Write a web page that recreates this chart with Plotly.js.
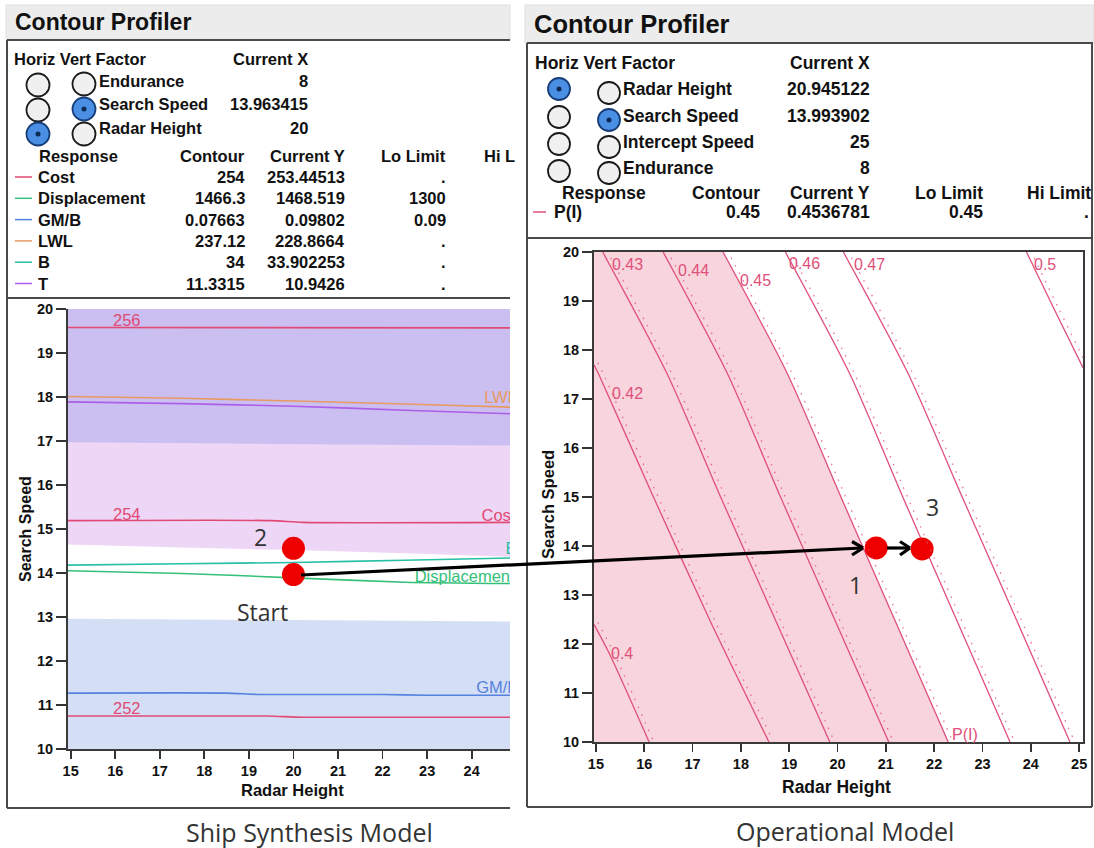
<!DOCTYPE html>
<html><head><meta charset="utf-8">
<script src="https://cdn.plot.ly/plotly-3.0.1.min.js"></script>
<style>html,body{margin:0;padding:0;background:#fff;}#chart{width:1094px;height:848px;}</style>
</head><body><div id="chart"></div>
<script>
// ===================== DATA =====================
// Left panel table (Ship Synthesis Model)
const leftFactors = ["Endurance", "Search Speed", "Radar Height"];
const leftFactorX = ["8", "13.963415", "20"];
const leftHoriz = [false, false, true];
const leftVert = [false, true, false];
const leftResponses = ["Cost", "Displacement", "GM/B", "LWL", "B", "T"];
const leftContour = ["254", "1466.3", "0.07663", "237.12", "34", "11.3315"];
const leftCurrentY = ["253.44513", "1468.519", "0.09802", "228.8664", "33.902253", "10.9426"];
const leftLoLimit = [".", "1300", "0.09", ".", ".", "."];

// Right panel table (Operational Model)
const rightFactors = ["Radar Height", "Search Speed", "Intercept Speed", "Endurance"];
const rightFactorX = ["20.945122", "13.993902", "25", "8"];
const rightHoriz = [true, false, false, false];
const rightVert = [false, true, false, false];
const rightResponses = ["P(I)"];
const rightContour = ["0.45"];
const rightCurrentY = ["0.4536781"];
const rightLoLimit = ["0.45"];
const rightHiLimit = ["."];

// Left contour plot: Radar Height (x) vs Search Speed (y)
const leftXs = [14.94, 17.5, 20, 22.5, 24.86];
const lwlY = [18.01, 17.97, 17.91, 17.84, 17.77];
const tY = [17.89, 17.85, 17.79, 17.70, 17.62];
const bY = [14.18, 14.21, 14.24, 14.29, 14.34];
const dispY = [14.05, 13.99, 13.89, 13.79, 13.76];
const lavBoundY = [14.65, 14.58, 14.52, 14.45, 14.37];
const cost256X = [14.94, 24.86], cost256Y = [19.58, 19.57];
const cost254X = [14.94, 19.5, 20.2, 24.86], cost254Y = [15.19, 15.19, 15.15, 15.15];
const cost252X = [14.94, 19.4, 20.2, 24.86], cost252Y = [10.75, 10.75, 10.72, 10.72];
const gmbX = [14.94, 18.5, 19.2, 22, 23, 24.86], gmbY = [11.27, 11.27, 11.24, 11.24, 11.22, 11.22];
const purpleBoundX = [14.94, 18, 21, 24.86], purpleBoundY = [16.97, 16.95, 16.92, 16.90];
const blueBoundX = [14.94, 24.86], blueBoundY = [12.96, 12.90];
const leftLabelText = ["256", "254", "252", "LWL", "Cost", "B", "Displacement", "GM/B"];
const leftLabelX = [15.95, 15.95, 15.95, 24.28, 24.22, 24.76, 22.72, 24.10];
const leftLabelY = [19.71, 15.30, 10.88, 17.95, 15.27, 14.52, 13.88, 11.37];
const leftDotsX = [20, 20], leftDotsY = [13.963415, 14.56];

// Right contour plot: P(I) contours
const levelYs = [20, 17.5, 15, 12.5, 10];
const c043 = [15.14, 16.48, 17.58, 18.71, 19.84];
const c044 = [16.39, 17.73, 18.82, 19.94, 21.06];
const c045 = [17.63, 18.97, 20.07, 21.18, 22.29];
const c046 = [18.92, 20.26, 21.35, 22.46, 23.57];
const c047 = [20.12, 21.47, 22.58, 23.70, 24.81];
const c042X = [14.96, 15.06, 16.19, 17.35, 18.58], c042Y = [17.70, 17.5, 15, 12.5, 10];
const c040X = [14.96, 15.28, 16.10], c040Y = [12.40, 11.8, 10];
const c050X = [23.91, 24.50, 25.08], c050Y = [20, 18.8, 17.64];
const rightLabelText = ["0.43", "0.44", "0.45", "0.46", "0.47", "0.5", "0.42", "0.4", "P(I)"];
const rightLabelX = [15.29, 16.66, 17.94, 18.95, 20.29, 24.02, 15.29, 15.27, 22.33];
const rightLabelY = [19.75, 19.62, 19.41, 19.77, 19.75, 19.75, 17.11, 11.81, 10.16];
const rightDotsX = [20.80, 21.75], rightDotsY = [13.96, 13.94];

const xTicksLeft = [15, 16, 17, 18, 19, 20, 21, 22, 23, 24];
const xTicksRight = [15, 16, 17, 18, 19, 20, 21, 22, 23, 24, 25];
const yTicks = [10, 11, 12, 13, 14, 15, 16, 17, 18, 19, 20];

// ===================== STYLE / LAYOUT =====================
const W = 1094, H = 848;
const px = v => v / W;
const py = v => 1 - v / H;
const TF = "Liberation Sans, Arial, Helvetica, sans-serif";
const CF = "Open Sans, sans-serif";
const respColors = ["#e04a74", "#35c07a", "#5582de", "#e79a62", "#27c0a6", "#ad5ee8"];
const pink = "#e0507a";
const LXR = [14.94, 24.86], RXR = [14.96, 25.08], YR = [10, 20];

const traces = [];
const ann = [];
const shapes = [];

function T(x, y, text, o = {}) {
  ann.push({xref: "paper", yref: "paper", x: px(x), y: py(y), text: text, showarrow: false,
    xanchor: o.xa || "left", yanchor: "middle", textangle: o.angle || 0,
    font: {family: o.family || TF, size: o.size || 16.5, color: o.color || "#111", weight: o.weight || "bold"}});
}
function L(x0, y0, x1, y1, color, w) {
  shapes.push({type: "line", xref: "paper", yref: "paper", x0: px(x0), y0: py(y0), x1: px(x1), y1: py(y1),
    line: {color: color, width: w}, layer: "above"});
}
function R(x0, y0, x1, y1, fill, line) {
  shapes.push({type: "rect", xref: "paper", yref: "paper", x0: px(x0), y0: py(y0), x1: px(x1), y1: py(y1),
    fillcolor: fill, line: {color: line || fill, width: line ? 1 : 0}, layer: "below"});
}
function radio(cx, cy, r, sel) {
  shapes.push({type: "circle", xref: "paper", yref: "paper", x0: px(cx - r), x1: px(cx + r), y0: py(cy + r), y1: py(cy - r),
    fillcolor: sel ? "#4a8fe3" : "#f0f0f0", line: {color: sel ? "#163d78" : "#1a1a1a", width: 1.8}, layer: "above"});
  if (sel) shapes.push({type: "circle", xref: "paper", yref: "paper", x0: px(cx - 2.5), x1: px(cx + 2.5), y0: py(cy + 2.5), y1: py(cy - 2.5),
    fillcolor: "#0d2a55", line: {width: 0}, layer: "above"});
}

// ---------- panel chrome ----------
R(6, 5, 510, 40, "#ececec", "#dedede");
R(525, 5, 1094, 43, "#ececec", "#dedede");
const FR = "#4a4a4a";
L(7, 40, 510, 40, FR, 2); L(7, 40, 7, 808, FR, 2); L(7, 808, 510, 808, FR, 2); L(7, 298, 510, 298, FR, 2);
L(527, 43, 1093, 43, FR, 2); L(527, 43, 527, 807, FR, 2); L(1092, 43, 1092, 807, FR, 2); L(527, 807, 1092, 807, FR, 2); L(527, 238, 1092, 238, FR, 2);

// ---------- left table ----------
T(13, 22, "Contour Profiler", {size: 23});
T(12, 59, "Horiz Vert Factor");
T(310, 59, "Current X", {xa: "right"});
const lRadioY1 = [85, 110, 134], lRadioY2 = [84, 109, 134];
leftFactors.forEach((f, i) => {
  radio(38, lRadioY1[i], 11.5, leftHoriz[i]);
  radio(84, lRadioY2[i], 11.5, leftVert[i]);
  T(97, 81 + i * 23.5, f);
  T(310, 81 + i * 23.5, leftFactorX[i], {xa: "right"});
});
T(37, 156, "Response"); T(247, 156, "Contour", {xa: "right"}); T(347, 156, "Current Y", {xa: "right"});
T(448, 156, "Lo Limit", {xa: "right"}); T(482, 156, "Hi L");
leftResponses.forEach((r, i) => {
  const y = 177 + i * 21.3;
  L(15, y, 32, y, respColors[i], 1.5);
  T(36, y, r);
  T(247, y, leftContour[i], {xa: "right"});
  T(347, y, leftCurrentY[i], {xa: "right"});
  T(448, y, leftLoLimit[i], {xa: "right"});
});

// ---------- right table ----------
T(532, 24, "Contour Profiler", {size: 25.5});
T(533, 63, "Horiz Vert Factor", {size: 17.5});
T(872, 63, "Current X", {xa: "right", size: 17.5});
const rRadioY1 = [89, 117, 144, 171], rRadioY2 = [93, 120, 147, 173];
const rRowY = [89, 116, 142, 168];
rightFactors.forEach((f, i) => {
  radio(559, rRadioY1[i], 11, rightHoriz[i]);
  radio(609, rRadioY2[i], 11, rightVert[i]);
  T(621, rRowY[i], f, {size: 17.5});
  T(872, rRowY[i], rightFactorX[i], {xa: "right", size: 17.5});
});
T(560, 193, "Response", {size: 17.5}); T(762, 193, "Contour", {xa: "right", size: 17.5});
T(872, 193, "Current Y", {xa: "right", size: 17.5}); T(985, 193, "Lo Limit", {xa: "right", size: 17.5});
T(1093, 193, "Hi Limit", {xa: "right", size: 17.5});
rightResponses.forEach((r, i) => {
  const y = 212 + i * 21;
  L(533, y, 546, y, pink, 1.5);
  T(552, y, r, {size: 17.5});
  T(762, y, rightContour[i], {xa: "right", size: 17.5});
  T(872, y, rightCurrentY[i], {xa: "right", size: 17.5});
  T(985, y, rightLoLimit[i], {xa: "right", size: 17.5});
  T(1091, y, rightHiLimit[i], {xa: "right", size: 17.5});
});

// ---------- left plot traces ----------
const LA = {xaxis: "x", yaxis: "y", hoverinfo: "skip", showlegend: false};
traces.push(Object.assign({type: "scatter", mode: "none", fill: "toself", fillcolor: "rgb(238,214,247)",
  x: [LXR[0], LXR[1]].concat(leftXs.slice().reverse()), y: [YR[1], YR[1]].concat(lavBoundY.slice().reverse())}, LA));
traces.push(Object.assign({type: "scatter", mode: "none", fill: "toself", fillcolor: "rgb(203,190,240)",
  x: [LXR[0], LXR[1]].concat(purpleBoundX.slice().reverse()), y: [YR[1], YR[1]].concat(purpleBoundY.slice().reverse())}, LA));
traces.push(Object.assign({type: "scatter", mode: "none", fill: "toself", fillcolor: "rgb(212,223,246)",
  x: [LXR[0], LXR[1]].concat(blueBoundX.slice().reverse()), y: [YR[0], YR[0]].concat(blueBoundY.slice().reverse())}, LA));
const leftLines = [
  [cost256X, cost256Y, respColors[0]], [leftXs, lwlY, respColors[3]], [leftXs, tY, respColors[5]],
  [cost254X, cost254Y, respColors[0]], [leftXs, bY, respColors[4]], [leftXs, dispY, respColors[1]],
  [gmbX, gmbY, respColors[2]], [cost252X, cost252Y, respColors[0]]];
leftLines.forEach(l => traces.push(Object.assign({type: "scatter", mode: "lines", x: l[0], y: l[1],
  line: {color: l[2], width: 1.6, shape: "spline", smoothing: 0.6}}, LA)));
const leftLabelColors = [respColors[0], respColors[0], respColors[0], respColors[3], respColors[0], respColors[4], respColors[1], respColors[2]];
traces.push(Object.assign({type: "scatter", mode: "text", x: leftLabelX, y: leftLabelY, text: leftLabelText,
  textposition: "middle right", cliponaxis: true, textfont: {family: TF, size: 16.5, color: leftLabelColors}}, LA));
traces.push(Object.assign({type: "scatter", mode: "markers", x: leftDotsX, y: leftDotsY,
  marker: {size: 23, color: "#ee0000"}, cliponaxis: false}, LA));

// ---------- right plot traces ----------
const RA = {xaxis: "x2", yaxis: "y2", hoverinfo: "skip", showlegend: false};
const RD = {xaxis: "x3", yaxis: "y3", hoverinfo: "skip", showlegend: false};
traces.push(Object.assign({type: "scatter", mode: "none", fill: "toself", fillcolor: "rgb(248,212,221)",
  x: [RXR[0]].concat(c045, [RXR[0]]), y: [YR[1]].concat(levelYs, [YR[0]])}, RA));
const contours = [[c040X, c040Y], [c042X, c042Y], [c043, levelYs], [c044, levelYs], [c045, levelYs],
  [c046, levelYs], [c047, levelYs], [c050X, c050Y]];
contours.forEach(c => {
  traces.push(Object.assign({type: "scatter", mode: "lines", x: c[0], y: c[1],
    line: {color: pink, width: 1.3, shape: "spline", smoothing: 0.7}}, RA));
  traces.push(Object.assign({type: "scatter", mode: "lines", x: c[0], y: c[1],
    line: {color: "rgba(224,80,122,0.8)", width: 1.3, shape: "spline", smoothing: 0.7, dash: "1.5px,7px"}}, RD));
});
traces.push(Object.assign({type: "scatter", mode: "markers", x: rightDotsX, y: rightDotsY,
  marker: {size: 23, color: "#ee0000"}, cliponaxis: false}, RA));
rightLabelText.forEach((t, i) => ann.push({xref: "x2", yref: "y2", x: rightLabelX[i], y: rightLabelY[i], text: t,
  showarrow: false, xanchor: "left", yanchor: "middle", font: {family: TF, size: 16, color: pink}}));

// ---------- axis titles, captions, notes ----------
T(25, 529, "Search Speed", {xa: "center", angle: -90, size: 16});
T(292, 790, "Radar Height", {xa: "center", size: 16.5});
T(548, 505, "Search Speed", {xa: "center", angle: -90, size: 16.5});
T(836, 787, "Radar Height", {xa: "center", size: 17.5});
const NT = {family: CF, weight: "normal", color: "#333", size: 23, xa: "center"};
T(260, 537, "2", NT); T(262, 612, "Start", NT); T(855, 585, "1", NT); T(932, 507, "3", NT);
T(309, 832, "Ship Synthesis Model", Object.assign({}, NT, {size: 25}));
T(845, 831, "Operational Model", Object.assign({}, NT, {size: 25}));

// arrows
L(301, 575, 862, 548, "#000", 3.2);
L(852, 541.5, 863, 548, "#000", 3.2); L(852, 555, 863, 548, "#000", 3.2);
L(887, 548, 909, 548, "#000", 3.2);
L(900, 541.5, 910, 548, "#000", 3.2); L(900, 555, 910, 548, "#000", 3.2);

// ---------- axes ----------
const tickFont = {family: TF, size: 14.5, color: "#111", weight: "bold"};
const baseAx = {showgrid: false, zeroline: false, showline: true, linecolor: "#3a3a3a", linewidth: 2,
  ticks: "outside", tickcolor: "#333", tickwidth: 1.8, tickfont: tickFont, fixedrange: true};
const layout = {
  width: W, height: H, margin: {l: 0, r: 0, t: 0, b: 0}, paper_bgcolor: "#fff", plot_bgcolor: "rgba(0,0,0,0)",
  showlegend: false,
  xaxis: Object.assign({}, baseAx, {domain: [px(68), px(510)], range: LXR, tickvals: xTicksLeft, ticklen: 8, anchor: "y"}),
  yaxis: Object.assign({}, baseAx, {domain: [py(749), py(309)], range: YR, tickvals: yTicks, ticklen: 10, anchor: "x"}),
  xaxis2: Object.assign({}, baseAx, {domain: [px(594), px(1083)], range: RXR, tickvals: xTicksRight, ticklen: 8, mirror: true, anchor: "y2"}),
  yaxis2: Object.assign({}, baseAx, {domain: [py(742), py(252)], range: YR, tickvals: yTicks, ticklen: 10, mirror: true, anchor: "x2"}),
  xaxis3: {domain: [px(594), px(1083)], range: [RXR[0] - 0.08, RXR[1] - 0.08], visible: false, anchor: "y3", fixedrange: true},
  yaxis3: {domain: [py(742), py(252)], range: [YR[0] - 0.04, YR[1] - 0.04], visible: false, anchor: "x3", fixedrange: true},
  annotations: ann, shapes: shapes
};
Plotly.newPlot("chart", traces, layout, {displayModeBar: false, staticPlot: true});
</script></body></html>
